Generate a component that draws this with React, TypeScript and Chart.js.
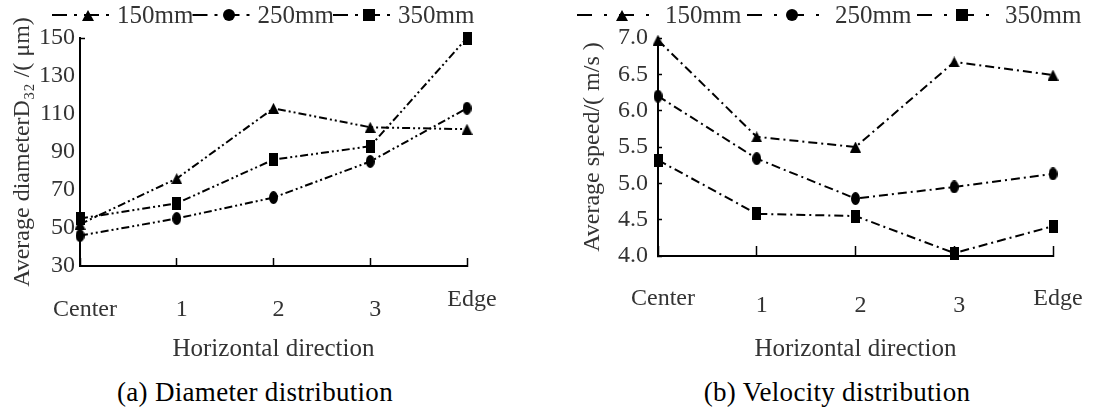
import React, { useEffect, useRef } from "react";
import { Chart, registerables } from "chart.js";

Chart.register(...registerables);

// ---------------- data ----------------
const categories = ["Center", "1", "2", "3", "Edge"];
const seriesNames = ["150mm", "250mm", "350mm"];

const diameter150 = [52, 76, 113, 103, 102];
const diameter250 = [46, 55, 66, 85, 113];
const diameter350 = [55, 63, 86, 93, 150];

const speed150 = [6.97, 5.64, 5.5, 6.67, 6.49];
const speed250 = [6.2, 5.34, 4.79, 4.95, 5.13];
const speed350 = [5.32, 4.58, 4.55, 4.04, 4.41];

const diameterTicks = [30, 50, 70, 90, 110, 130, 150];
const speedTicks = [4.0, 4.5, 5.0, 5.5, 6.0, 6.5, 7.0];

const diameterTitle = "Average diameterD\u2083\u2082 /( \u03bcm)";
const speedTitle = "Average speed/( m/s )";
const xTitle = "Horizontal direction";
const captionA = "(a) Diameter distribution";
const captionB = "(b) Velocity distribution";

// ---------------- styles ----------------
const SERIF = "'Liberation Serif', 'Times New Roman', serif";
const TEXT = "#333";

function makeMarker(kind: string, w: number, h: number) {
  const c = document.createElement("canvas");
  c.width = w;
  c.height = h;
  const ctx = c.getContext("2d")!;
  ctx.fillStyle = "#000";
  ctx.beginPath();
  if (kind === "triangle") {
    ctx.moveTo(w / 2, 0);
    ctx.lineTo(w, h);
    ctx.lineTo(0, h);
    ctx.closePath();
  } else if (kind === "ellipse") {
    ctx.ellipse(w / 2, h / 2, w / 2, h / 2, 0, 0, Math.PI * 2);
  } else {
    ctx.rect(0, 0, w, h);
  }
  ctx.fill();
  return c;
}

function makeKeyPlugin(k: any, markers: HTMLCanvasElement[]) {
  return {
    id: "seriesKey",
    afterDraw(chart: any) {
      const ctx = chart.ctx as CanvasRenderingContext2D;
      ctx.save();
      chart.data.datasets.forEach((ds: any, i: number) => {
        const x = k.x0 + i * k.step;
        const y = k.y;
        ctx.setLineDash(k.dash);
        ctx.lineWidth = 2;
        ctx.strokeStyle = "#000";
        ctx.beginPath();
        ctx.moveTo(x, y);
        ctx.lineTo(x + k.sampleW, y);
        ctx.stroke();
        ctx.setLineDash([]);
        const m = markers[i];
        ctx.drawImage(m, Math.round(x + k.markerX - m.width / 2), Math.round(y - m.height / 2));
        ctx.fillStyle = TEXT;
        ctx.font = `${k.fontSize}px ${SERIF}`;
        ctx.textBaseline = "middle";
        ctx.textAlign = "left";
        ctx.fillText(ds.label, x + k.textX, y + 1);
      });
      ctx.restore();
    },
  };
}

function buildConfig(p: any) {
  const pointMarkers = [
    makeMarker("triangle", 11, 11),
    makeMarker("ellipse", 9, 13),
    makeMarker("rect", 9, 13),
  ];
  const keyMarkers = [
    makeMarker("triangle", 12, 11),
    makeMarker("ellipse", 12, 12),
    makeMarker("rect", 12, 12),
  ];
  const datasets = p.series.map((vals: number[], i: number) => ({
    label: seriesNames[i],
    data: vals,
    borderColor: "#000",
    backgroundColor: "#000",
    borderWidth: 2,
    borderDash: p.dash,
    tension: 0,
    pointStyle: pointMarkers[i],
    pointRadius: 5,
    clip: false,
  }));
  const last = categories.length - 1;
  return {
    type: "line",
    data: { labels: categories, datasets },
    options: {
      responsive: false,
      animation: false,
      events: [],
      layout: { padding: { top: 38, right: p.padRight, left: 0, bottom: 0 } },
      plugins: {
        legend: { display: false },
        tooltip: { enabled: false },
        title: { display: false },
      },
      scales: {
        x: {
          type: "category",
          offset: false,
          border: { display: true, color: "#000", width: 2 },
          grid: {
            drawOnChartArea: false,
            drawTicks: true,
            tickLength: p.xTick,
            tickColor: "#000",
            tickWidth: 1.5,
          },
          ticks: {
            color: TEXT,
            font: { family: SERIF, size: 24, lineHeight: p.xLine + "px" },
            padding: p.xPad,
            maxRotation: 0,
            minRotation: 0,
            autoSkip: false,
            labelOffset: 5,
            callback: (_v: any, i: number) =>
              p.lowered(i, last) ? ["", categories[i]] : [categories[i]],
          },
          title: {
            display: true,
            text: xTitle,
            color: TEXT,
            font: { family: SERIF, size: 25 },
            padding: { top: 0, bottom: 0 },
          },
          afterFit: (s: any) => {
            s.height = p.xHeight;
          },
        },
        y: {
          min: p.yTicks[0],
          max: p.yTicks[p.yTicks.length - 1],
          border: { display: true, color: "#000", width: 2 },
          grid: {
            drawOnChartArea: false,
            drawTicks: true,
            tickLength: p.yTick,
            tickColor: p.yTickColor,
            tickWidth: 1.5,
          },
          ticks: {
            stepSize: p.yTicks[1] - p.yTicks[0],
            color: TEXT,
            font: { family: SERIF, size: 24 },
            padding: p.yPad,
            callback: p.yFormat,
          },
          title: {
            display: true,
            text: p.yTitle,
            color: TEXT,
            font: { family: SERIF, size: 24 },
            padding: { top: p.yTitlePad, bottom: 0 },
          },
          afterFit: (s: any) => {
            s.width = p.yWidth;
          },
        },
      },
    },
    plugins: [makeKeyPlugin(p.key, keyMarkers)],
  };
}

export default function App() {
  const leftRef = useRef<HTMLCanvasElement>(null);
  const rightRef = useRef<HTMLCanvasElement>(null);

  useEffect(() => {
    const left = new Chart(
      leftRef.current!,
      buildConfig({
        series: [diameter150, diameter250, diameter350],
        dash: [8, 3, 2, 3, 2, 3],
        padRight: 73,
        xTick: -8,
        xLine: 10,
        xPad: 37,
        xHeight: 98,
        lowered: (i: number, last: number) => i !== last,
        yTicks: diameterTicks,
        yTick: -5,
        yTickColor: (c: any) =>
          c.tick && c.tick.value === diameterTicks[diameterTicks.length - 1] ? "#000" : "rgba(0,0,0,0)",
        yPad: 10,
        yFormat: (v: any) => String(v),
        yTitle: diameterTitle,
        yTitlePad: 8,
        yWidth: 80,
        key: { x0: 52, step: 140.5, y: 15, sampleW: 58, markerX: 36, textX: 65, dash: [15, 7, 3, 7], fontSize: 25 },
      }) as any
    );
    const right = new Chart(
      rightRef.current!,
      buildConfig({
        series: [speed150, speed250, speed350],
        dash: [9, 4, 2, 4],
        padRight: 82,
        xTick: -10,
        xLine: 7,
        xPad: 49.5,
        xHeight: 108,
        lowered: (i: number, last: number) => i !== 0 && i !== last,
        yTicks: speedTicks,
        yTick: -4,
        yTickColor: "#000",
        yPad: 14,
        yFormat: (v: any) => Number(v).toFixed(1),
        yTitle: speedTitle,
        yTitlePad: 18.6,
        yWidth: 98,
        key: { x0: 17, step: 170, y: 15, sampleW: 82, markerX: 45, textX: 88, dash: [15, 12, 3, 12], fontSize: 25 },
      }) as any
    );
    return () => {
      left.destroy();
      right.destroy();
    };
  }, []);

  const captionStyle: React.CSSProperties = {
    position: "absolute",
    top: 378,
    height: 28,
    lineHeight: "28px",
    textAlign: "center",
    fontFamily: SERIF,
    fontSize: 27,
    letterSpacing: "0.3px",
    color: "#000",
    whiteSpace: "nowrap",
  };

  return (
    <div style={{ position: "fixed", left: 0, top: 0, width: 1107, height: 412, background: "#fff", overflow: "hidden" }}>
      <canvas ref={leftRef} width={540} height={364} style={{ position: "absolute", left: 0, top: 0, display: "block" }} />
      <canvas ref={rightRef} width={575} height={364} style={{ position: "absolute", left: 560, top: 0, display: "block" }} />
      <div style={{ ...captionStyle, left: 0, width: 510 }}>{captionA}</div>
      <div style={{ ...captionStyle, left: 637, width: 400 }}>{captionB}</div>
    </div>
  );
}
